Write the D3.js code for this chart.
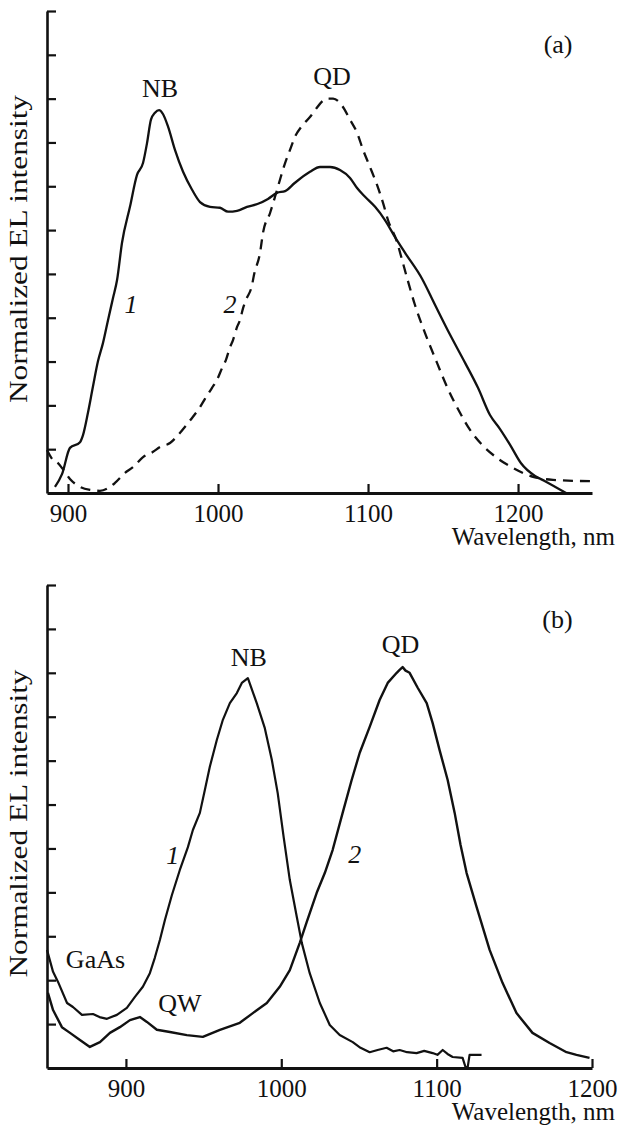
<!DOCTYPE html>
<html>
<head>
<meta charset="utf-8">
<script src="https://cdn.jsdelivr.net/npm/d3@7"></script>
<style>
  html, body { margin: 0; padding: 0; background: #fff; }
  svg { display: block; }
  text { font-family: "Liberation Serif", "Times New Roman", serif; fill: #111; }
</style>
</head>
<body>
<svg id="chart" width="621" height="1128"></svg>
<script>
// ---------- data (wavelength nm, normalized intensity) ----------
// Panel (a), curve 1 (solid)
const a1Wl = [891.3,896.0,901.3,908.0,910.0,913.3,916.7,920.0,923.3,926.7,930.0,932.7,936.0,941.3,946.0,950.0,952.7,955.3,958.0,960.7,963.3,966.7,971.3,976.7,982.7,988.0,994.7,1001.3,1006.7,1012.7,1019.3,1026.7,1033.3,1039.3,1044.7,1051.3,1061.3,1068.0,1074.7,1081.3,1088.0,1092.7,1098.0,1104.7,1111.3,1118.0,1124.7,1136.0,1144.7,1154.7,1164.7,1173.3,1181.3,1188.0,1194.7,1202.0,1211.3,1218.0,1232.0];
const a1Int = [0.014,0.043,0.103,0.116,0.132,0.183,0.244,0.301,0.342,0.395,0.445,0.486,0.571,0.653,0.726,0.753,0.799,0.852,0.868,0.874,0.865,0.836,0.783,0.733,0.692,0.664,0.653,0.651,0.642,0.644,0.653,0.660,0.671,0.685,0.689,0.708,0.733,0.744,0.744,0.737,0.719,0.696,0.676,0.653,0.623,0.584,0.548,0.489,0.429,0.361,0.297,0.240,0.178,0.146,0.110,0.068,0.039,0.027,0.000];
// Panel (a), curve 2 (dashed)
const a2Wl = [886.0,890.0,893.3,896.0,901.3,908.0,914.7,921.3,926.7,931.3,938.0,943.3,950.0,956.7,961.3,968.0,973.3,978.0,983.3,988.0,991.3,996.0,999.3,1002.7,1005.3,1008.0,1010.0,1012.7,1014.7,1016.7,1018.7,1022.7,1024.0,1028.0,1030.0,1034.7,1038.0,1041.3,1044.7,1048.0,1051.3,1056.0,1061.3,1064.7,1072.7,1076.7,1082.7,1088.0,1092.7,1096.7,1101.3,1106.0,1110.0,1113.3,1119.3,1122.7,1126.0,1131.3,1138.0,1146.0,1152.7,1161.3,1168.0,1176.0,1186.0,1196.7,1210.0,1223.3,1248.0];
const a2Int = [0.098,0.075,0.068,0.057,0.032,0.014,0.007,0.005,0.011,0.023,0.046,0.059,0.082,0.094,0.105,0.114,0.132,0.151,0.174,0.196,0.215,0.240,0.258,0.285,0.304,0.333,0.349,0.379,0.395,0.422,0.441,0.475,0.498,0.548,0.594,0.639,0.676,0.715,0.753,0.783,0.813,0.838,0.858,0.874,0.900,0.900,0.884,0.852,0.822,0.783,0.744,0.703,0.662,0.623,0.573,0.532,0.491,0.429,0.365,0.297,0.242,0.183,0.144,0.110,0.080,0.057,0.037,0.030,0.027];
// Panel (b), curve 1 (NB)
const b1Wl = [849.2,853.1,856.3,862.1,865.9,871.7,878.8,883.0,887.8,894.2,900.6,905.8,910.9,915.4,918.6,921.9,925.1,929.6,934.7,939.9,943.1,947.6,950.8,954.0,958.5,962.4,966.9,971.4,974.6,978.5,984.2,989.4,993.9,997.7,1001.6,1005.5,1010.0,1013.2,1018.3,1024.8,1031.2,1037.6,1046.0,1051.0,1056.9,1062.0,1067.8,1072.0,1076.2,1081.0,1087.1,1092.0,1097.4,1100.5,1103.9,1107.0,1110.3,1116.7,1118.6,1120.0,1121.2,1128.9];
const b1Int = [0.269,0.219,0.196,0.148,0.139,0.121,0.123,0.116,0.112,0.121,0.137,0.162,0.185,0.216,0.251,0.292,0.337,0.394,0.451,0.503,0.542,0.581,0.633,0.686,0.747,0.793,0.831,0.854,0.877,0.888,0.831,0.774,0.702,0.626,0.524,0.428,0.344,0.285,0.216,0.148,0.098,0.075,0.059,0.046,0.036,0.041,0.046,0.038,0.041,0.036,0.034,0.039,0.034,0.030,0.041,0.032,0.025,0.023,0.002,0.002,0.030,0.030];
// Panel (b), curve 2 (QD)
const b2Wl = [849.8,853.1,858.8,864.0,870.4,876.8,883.3,889.7,896.1,902.6,909.0,913.5,919.9,928.3,939.2,949.5,960.5,973.3,981.7,990.7,999.0,1005.5,1011.9,1016.4,1022.8,1028.0,1033.1,1039.5,1045.3,1050.5,1056.9,1063.3,1068.5,1074.3,1076.0,1078.1,1080.0,1082.6,1087.8,1093.6,1097.4,1101.9,1107.1,1111.6,1115.4,1119.3,1125.7,1134.1,1142.4,1151.4,1161.7,1172.7,1183.6,1190.0,1198.4];
const b2Int = [0.171,0.132,0.093,0.080,0.064,0.048,0.059,0.080,0.093,0.109,0.116,0.105,0.087,0.082,0.075,0.071,0.087,0.103,0.125,0.148,0.185,0.223,0.285,0.333,0.399,0.444,0.497,0.581,0.656,0.718,0.777,0.838,0.877,0.900,0.906,0.913,0.905,0.900,0.866,0.831,0.786,0.724,0.656,0.581,0.508,0.444,0.367,0.269,0.194,0.125,0.080,0.057,0.036,0.030,0.023];

const xTicksA = [900, 1000, 1100, 1200];
const xTicksB = [900, 1000, 1100, 1200];
const yTicks = [0.1,0.2,0.3,0.4,0.5,0.6,0.7,0.8,0.9,1.0,1.1];

// annotations: [text, wavelength, intensity, italic]
const annA = [["NB", 961.3, 0.904, false], ["QD", 1076, 0.932, false], ["1", 942, 0.411, true], ["2", 1008, 0.411, true], ["(a)", 1226.7, 1.005, false]];
const annB = [["NB", 979.1, 0.916, false], ["QD", 1076.8, 0.945, false], ["GaAs", 880.4, 0.228, false], ["QW", 934.7, 0.128, false], ["1", 930.2, 0.465, true], ["2", 1047.3, 0.467, true], ["(b)", 1177.8, 1.002, false]];

const yLabel = "Normalized EL intensity";
const xLabel = "Wavelength, nm";

// ---------- drawing ----------
const svg = d3.select("#chart");

function panel(cfg) {
  const g = svg.append("g");
  const x = d3.scaleLinear().domain(cfg.xDomain).range([47, 592]);
  const y = d3.scaleLinear().domain([0, 1.1]).range([cfg.bottom, cfg.top]);

  // y axis
  const ya = g.append("g").attr("transform", "translate(47,0)")
    .call(d3.axisLeft(y).tickValues(yTicks).tickSize(-9).tickSizeOuter(0).tickFormat(""));
  ya.select(".domain").attr("stroke", "#111").attr("stroke-width", 2.6);
  ya.selectAll(".tick line").attr("stroke", "#111").attr("stroke-width", 2.2);

  // x axis
  const xa = g.append("g").attr("transform", `translate(0,${cfg.bottom})`)
    .call(d3.axisBottom(x).tickValues(cfg.xTicks).tickSize(-9).tickSizeOuter(0).tickPadding(11).tickFormat(d3.format("d")));
  xa.select(".domain").attr("stroke", "#111").attr("stroke-width", 2.8);
  xa.selectAll(".tick line").attr("stroke", "#111").attr("stroke-width", 2.2);
  xa.selectAll(".tick text").attr("font-size", 25).attr("fill", "#111")
    .style("font-family", '"Liberation Serif", serif');

  // axis titles
  g.append("text").attr("x", 615).attr("y", cfg.bottom + 52)
    .attr("text-anchor", "end").attr("font-size", 25).text(xLabel);
  const cy = (cfg.top + cfg.bottom) / 2 - 3;
  g.append("text").attr("transform", `translate(27,${cy}) rotate(-90)`)
    .attr("text-anchor", "middle").attr("font-size", 25)
    .attr("textLength", 308).attr("lengthAdjust", "spacingAndGlyphs").text(yLabel);

  // curves
  cfg.series.forEach(s => {
    const pts = s.wl.map((w, i) => [w, s.v[i]]);
    const line = d3.line().x(d => x(d[0])).y(d => y(d[1])).curve(s.curve);
    g.append("path").datum(pts).attr("d", line)
      .attr("fill", "none").attr("stroke", "#111")
      .attr("stroke-width", s.width)
      .attr("stroke-dasharray", s.dash || null)
      .attr("stroke-linejoin", "round");
  });

  // annotations
  cfg.ann.forEach(a => {
    g.append("text").attr("x", x(a[1])).attr("y", y(a[2]))
      .attr("text-anchor", "middle").attr("font-size", 26)
      .attr("font-style", a[3] ? "italic" : "normal").text(a[0]);
  });
}

panel({
  xDomain: [886, 1249.3], xTicks: xTicksA, top: 11, bottom: 493,
  series: [
    { wl: a1Wl, v: a1Int, curve: d3.curveMonotoneX, width: 2.3 },
    { wl: a2Wl, v: a2Int, curve: d3.curveMonotoneX, width: 2.3, dash: "10,7" }
  ],
  ann: annA
});

panel({
  xDomain: [849.2, 1200], xTicks: xTicksB, top: 585, bottom: 1068,
  series: [
    { wl: b1Wl, v: b1Int, curve: d3.curveLinear, width: 2.2 },
    { wl: b2Wl, v: b2Int, curve: d3.curveLinear, width: 2.4 }
  ],
  ann: annB
});
</script>
</body>
</html>
